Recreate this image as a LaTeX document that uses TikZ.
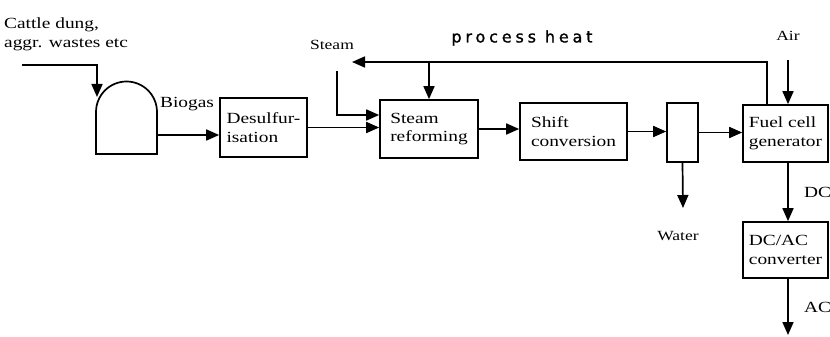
\documentclass[tikz,border=0pt]{standalone}
\usepackage{fontspec}
\setmainfont[FakeStretch=1.25]{Liberation Serif}
\newfontfamily\handfont[LetterSpace=24,FakeBold=1.2]{DejaVu Sans}
\usetikzlibrary{arrows.meta,calc}
\begin{document}
\begin{tikzpicture}[x=1pt,y=-1pt,
  every node/.style={font=\fontsize{15.5}{18.5}\selectfont, inner sep=0pt},
  lbl/.style={font=\fontsize{14}{17}\selectfont},
  box/.style={draw, line width=1.7pt, align=left},
  arr/.style={line width=1.7pt, -{Triangle[length=13pt,width=11pt]}},
  ln/.style={line width=1.7pt}]
\useasboundingbox (0,0) rectangle (830,337);
% nodes
\node[box, minimum width=87pt, minimum height=59pt] (des) at (263.5,127.5) {Desulfur-\\isation};
\node[box, minimum width=98pt, minimum height=58pt] (ref) at (429,129) {Steam\\reforming};
\node[box, minimum width=107pt, minimum height=57pt] (shift) at (573.5,131.5) {Shift\\conversion};
\node[box, minimum width=31pt, minimum height=59pt] (sep) at (682.5,132.5) {};
\node[box, minimum width=85pt, minimum height=57pt] (fc) at (785.5,133.5) {Fuel cell\\generator};
\node[box, minimum width=85pt, minimum height=56pt] (conv) at (785.5,250) {DC/AC\\converter};
% digester dome
\draw[ln] (96,154) -- (96,112) arc (180:360:30.5) -- (157,154) -- cycle;
\coordinate (domeR) at (157,135);
\coordinate (domeTop) at (97,97);
\coordinate (inStart) at (22,65);
\coordinate (steamTop) at (337,71);
\coordinate (phEnd) at (352,62);
\coordinate (airTop) at (788,60);
\coordinate (waterEnd) at (683,208);
\coordinate (acEnd) at (788,335);
% labels
\node[anchor=north west, align=left] (cattle) at (4,18) {Cattle dung,\\aggr. wastes etc};
\node (biogas) at (187,104) {Biogas};
\node[lbl] (steam) at (332,45) {Steam};
\node[font=\handfont\fontsize{16}{18}\selectfont] (heat) at (522,38) {process heat};
\node[lbl] (air) at (788,36) {Air};
\node[lbl] (water) at (678,236) {Water};
\node[anchor=west] (dc) at (804,192) {DC};
\node[anchor=west] (ac) at (804,307) {AC};
% connectors
\draw[arr] (inStart) -| (domeTop);
\draw[arr] (domeR) -- (domeR -| des.west);
\draw[arr] (des.east) -- (des.east -| ref.west);
\draw[arr] (steamTop) |- ($(ref.west)+(0,-14)$);
\draw[arr] ([xshift=-18.5pt]fc.north) |- (phEnd);
\draw[arr] (ref.north |- phEnd) -- (ref.north);
\draw[arr] (ref.east) -- (ref.east -| shift.west);
\draw[arr] (shift.east) -- (shift.east -| sep.west);
\draw[arr] (sep.east) -- (sep.east -| fc.west);
\draw[arr] (airTop) -- (airTop |- fc.north);
\draw[arr] (sep.south) -- (waterEnd);
\draw[arr] (airTop |- fc.south) -- (airTop |- conv.north);
\draw[arr] (airTop |- conv.south) -- (acEnd);
\end{tikzpicture}
\end{document}
